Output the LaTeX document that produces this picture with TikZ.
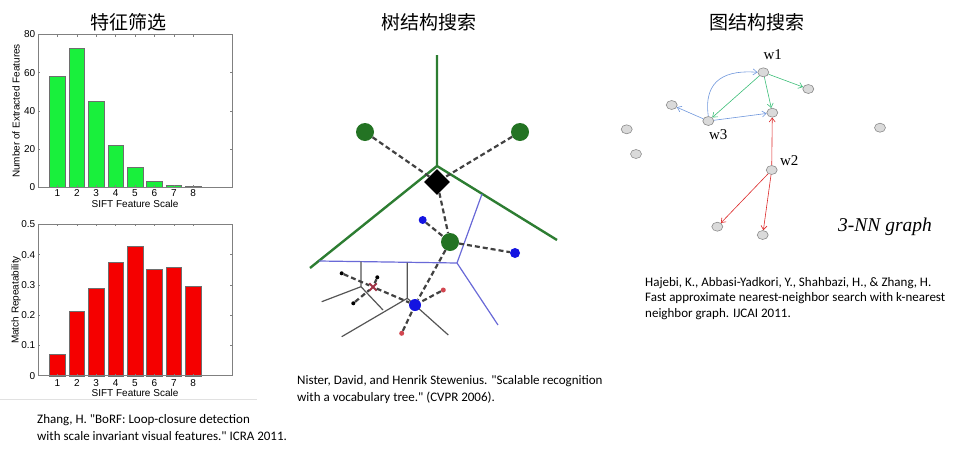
\documentclass[tikz,border=0pt]{standalone}
\usepackage{fontspec}
\setmainfont{Carlito}[Ligatures=TeXOff]
\newfontfamily\cjkfont{Noto Sans CJK SC}
\newfontfamily\chartfont{Liberation Sans}
\newfontfamily\seriffont{Liberation Serif}
\usetikzlibrary{shapes.geometric,arrows.meta}
\definecolor{barGreen}{RGB}{25,240,60}
\definecolor{barRed}{RGB}{245,0,0}
\definecolor{barEdge}{RGB}{110,110,110}
\definecolor{axisgray}{RGB}{128,128,128}
\definecolor{treeGreen}{RGB}{45,125,50}
\definecolor{dotGreen}{RGB}{35,115,35}
\definecolor{treeBlue}{RGB}{105,105,215}
\definecolor{dotBlue}{RGB}{20,20,225}
\definecolor{treeGray}{RGB}{85,85,85}
\definecolor{dashGray}{RGB}{65,65,65}
\definecolor{xRed}{RGB}{160,50,70}
\definecolor{dotRed}{RGB}{210,70,80}
\definecolor{nodeFill}{RGB}{218,218,218}
\definecolor{nodeEdge}{RGB}{140,140,140}
\definecolor{edgeBlue}{RGB}{110,150,220}
\definecolor{edgeGreen}{RGB}{60,190,120}
\definecolor{edgeRed}{RGB}{220,40,40}
\begin{document}
\begin{tikzpicture}[x=1pt,y=-1pt,
  titletext/.style={font=\cjkfont\fontsize{19}{22}\selectfont, inner sep=0},
  ticklab/.style={font=\chartfont\fontsize{10}{12}\selectfont, inner sep=0},
  axisframe/.style={draw=axisgray, line width=0.6pt},
  tickmark/.style={draw=axisgray, line width=0.5pt},
  gbar/.style={fill=barGreen, draw=barEdge, line width=0.4pt},
  rbar/.style={fill=barRed, draw=barEdge, line width=0.4pt},
  citetext/.style={font=\fontsize{13}{17.5}\selectfont, align=left, anchor=north west, inner sep=0},
  gline/.style={draw=treeGreen, line width=2.4pt},
  bline/.style={draw=treeBlue, line width=1.2pt},
  kline/.style={draw=treeGray, line width=1.2pt},
  dline/.style={draw=dashGray, line width=2.2pt, dash pattern=on 5pt off 3pt},
  gdot/.style={circle, fill=dotGreen, minimum size=18pt, inner sep=0},
  bdot/.style={circle, fill=dotBlue, inner sep=0},
  kdot/.style={circle, fill=black, minimum size=4pt, inner sep=0},
  rdot/.style={circle, fill=dotRed, minimum size=5pt, inner sep=0},
  dia/.style={diamond, fill=black, minimum width=26pt, minimum height=26pt, inner sep=0},
  gnode/.style={ellipse, fill=nodeFill, draw=nodeEdge, line width=0.6pt, minimum width=11pt, minimum height=9pt, inner sep=0},
  glabel/.style={font=\seriffont\fontsize{15}{17}\selectfont, inner sep=0},
  arr/.style={line width=0.6pt, -{Straight Barb[length=4pt,width=6pt]}},
]
\useasboundingbox (0,0) rectangle (975,453);

% ---------- titles ----------
\node[titletext] (title1) at (128,22) {特征筛选};
\node[titletext] (title2) at (429,22) {树结构搜索};
\node[titletext] (title3) at (757,22) {图结构搜索};

% ---------- chart 1 ----------
\foreach \i/\v in {1/58,2/73,3/45,4/22,5/10.3,6/3.3,7/0.7,8/0.5}{
  \path[gbar] ({38+19.4*(\i-0.4)},187) rectangle ({38+19.4*(\i+0.4)},{187-1.906*\v});
  \node[ticklab, anchor=north] at ({38+19.4*\i},189.5) {\i};
  \draw[tickmark] ({38+19.4*\i},187) -- ({38+19.4*\i},185) ({38+19.4*\i},34.5) -- ({38+19.4*\i},36.5);
}
\foreach \t in {0,20,40,60,80}{
  \node[ticklab, anchor=east] at (35.5,{187-1.906*\t}) {\t};
  \draw[tickmark] (38,{187-1.906*\t}) -- (40,{187-1.906*\t}) (232,{187-1.906*\t}) -- (230,{187-1.906*\t});
}
\path[axisframe] (38,34.5) rectangle (232,187);
\node[ticklab, anchor=north] (xl1) at (135,200) {SIFT Feature Scale};
\node[ticklab, rotate=90] (yl1) at (16,111) {Number of Extracted Features};

% ---------- chart 2 ----------
\foreach \i/\v in {1/0.0707,2/0.2137,3/0.289,4/0.3765,5/0.427,6/0.353,7/0.357,8/0.294}{
  \path[rbar] ({38+19.4*(\i-0.4)},375.7) rectangle ({38+19.4*(\i+0.4)},{375.7-302.8*\v});
  \node[ticklab, anchor=north] at ({38+19.4*\i},379) {\i};
  \draw[tickmark] ({38+19.4*\i},375.7) -- ({38+19.4*\i},373.7) ({38+19.4*\i},224.3) -- ({38+19.4*\i},226.3);
}
\foreach \t/\lab in {0/0,0.1/0.1,0.2/0.2,0.3/0.3,0.4/0.4,0.5/0.5}{
  \node[ticklab, anchor=east] at (35.5,{375.7-302.8*\t}) {\lab};
  \draw[tickmark] (38,{375.7-302.8*\t}) -- (40,{375.7-302.8*\t}) (232,{375.7-302.8*\t}) -- (230,{375.7-302.8*\t});
}
\path[axisframe] (38,224.3) rectangle (232,375.7);
\node[ticklab, anchor=north] (xl2) at (135,389) {SIFT Feature Scale};
\node[ticklab, rotate=90] (yl2) at (16,300) {Match Repeatability};
\draw[draw={rgb,255:red,225;green,225;blue,225}, line width=0.6pt] (0,399.5) -- (257,399.5);

\node[citetext] (cite1) at (37,414) {Zhang, H. "BoRF: Loop-closure detection\\with scale invariant visual features." ICRA 2011.};

% ---------- tree ----------
\coordinate (jn) at (437,166);
\coordinate (gtop) at (437,55);
\coordinate (gleft) at (310,268);
\coordinate (gright) at (557,240);
\draw[gline] (gtop) -- (jn) (gleft) -- (jn) -- (gright);
\coordinate (b1) at (482,194);
\coordinate (b2) at (457,263);
\coordinate (b3) at (319,261);
\coordinate (b4) at (498,325);
\draw[bline] (b1) -- (b2) (b3) -- (b2) -- (b4);
\coordinate (k1) at (341.7,336.7);
\coordinate (k2) at (407.3,298.3);
\coordinate (k3) at (407.3,262.5);
\coordinate (k4) at (448.3,335);
\coordinate (k5) at (321.7,301.7);
\coordinate (k6) at (361,286.7);
\coordinate (k7) at (361,261.5);
\coordinate (k8) at (383,310);
\draw[kline] (k1) -- (k2) (k3) -- (k2) -- (k4) (k5) -- (k6) (k7) -- (k6) -- (k8);

\node[gdot] (gl) at (365,132) {};
\node[gdot] (gr) at (520,132) {};
\node[gdot] (gm) at (450,242) {};
\node[dia] (dm) at (437,182) {};
\node[bdot, minimum size=10pt] (bp1) at (515,253) {};
\node[bdot, minimum size=8pt] (bp2) at (422.7,220) {};
\node[bdot, minimum size=12pt] (bp3) at (415,305) {};
\node[kdot] (kd1) at (341.7,273.3) {};
\node[kdot] (kd2) at (353.3,303.3) {};
\node[kdot] (kd3) at (377.3,277.3) {};
\node[rdot] (rd1) at (443.3,290) {};
\node[rdot] (rd2) at (401.7,333.3) {};
\node[minimum size=7pt, inner sep=0] (rx) at (373,287) {};
\draw[draw=xRed, line width=1.8pt] (rx.north west) -- (rx.south east) (rx.north east) -- (rx.south west);

\draw[dline] (gl) -- (dm);
\draw[dline] (gr) -- (dm);
\draw[dline] (dm) -- (gm);
\draw[dline] (gm) -- (bp1);
\draw[dline] (bp2) -- (gm);
\draw[dline] (gm) -- (bp3);
\draw[dline] (kd1) -- (rx);
\draw[dline] (kd2) -- (rx);
\draw[dline] (kd3) -- (rx);
\draw[dline] (rx) -- (bp3);
\draw[dline] (rd1) -- (bp3);
\draw[dline] (rd2) -- (bp3);

\node[citetext] (cite2) at (297,375) {Nister, David, and Henrik Stewenius. "Scalable recognition\\with a vocabulary tree." (CVPR 2006).};

% ---------- graph ----------
\node[gnode] (n1) at (763.3,72.3) {};
\node[gnode] (nr) at (808.3,89) {};
\node[gnode] (nc) at (772.3,112.7) {};
\node[gnode] (n3) at (708.3,121) {};
\node[gnode] (nlu) at (671.7,105) {};
\node[gnode] (nfl) at (626.7,129.3) {};
\node[gnode] (nll) at (636,154) {};
\node[gnode] (n2) at (771.7,170) {};
\node[gnode] (nbl) at (717.3,226.7) {};
\node[gnode] (nb) at (762.7,235) {};
\node[gnode] (nfr) at (880,127.7) {};
\node[glabel] (lw1) at (772.7,55) {w1};
\node[glabel] (lw3) at (718.3,135) {w3};
\node[glabel] (lw2) at (789.3,160.7) {w2};

\draw[arr, edgeBlue] (n3.north) .. controls (703,78) and (728,70) .. (n1.west);
\draw[arr, edgeBlue] (n3) -- (nlu);
\draw[arr, edgeBlue] (n3) -- (nc);
\draw[arr, edgeGreen] (n1) -- (nr);
\draw[arr, edgeGreen] (n1) -- (nc);
\draw[arr, edgeGreen] (n1) -- (n3);
\draw[arr, edgeRed] (n2) -- (nc);
\draw[arr, edgeRed] (n2) -- (nbl);
\draw[arr, edgeRed] (n2) -- (nb);

\node[font=\seriffont\itshape\fontsize{19.5}{22}\selectfont, anchor=west, inner sep=0] (nnlab) at (838,226.7) {3-NN graph};

\node[citetext, font=\fontsize{13}{15.5}\selectfont] (cite3) at (645,277) {Hajebi, K., Abbasi-Yadkori, Y., Shahbazi, H., \& Zhang, H.\\Fast approximate nearest-neighbor search with k-nearest\\neighbor graph. IJCAI 2011.};
\end{tikzpicture}
\end{document}
